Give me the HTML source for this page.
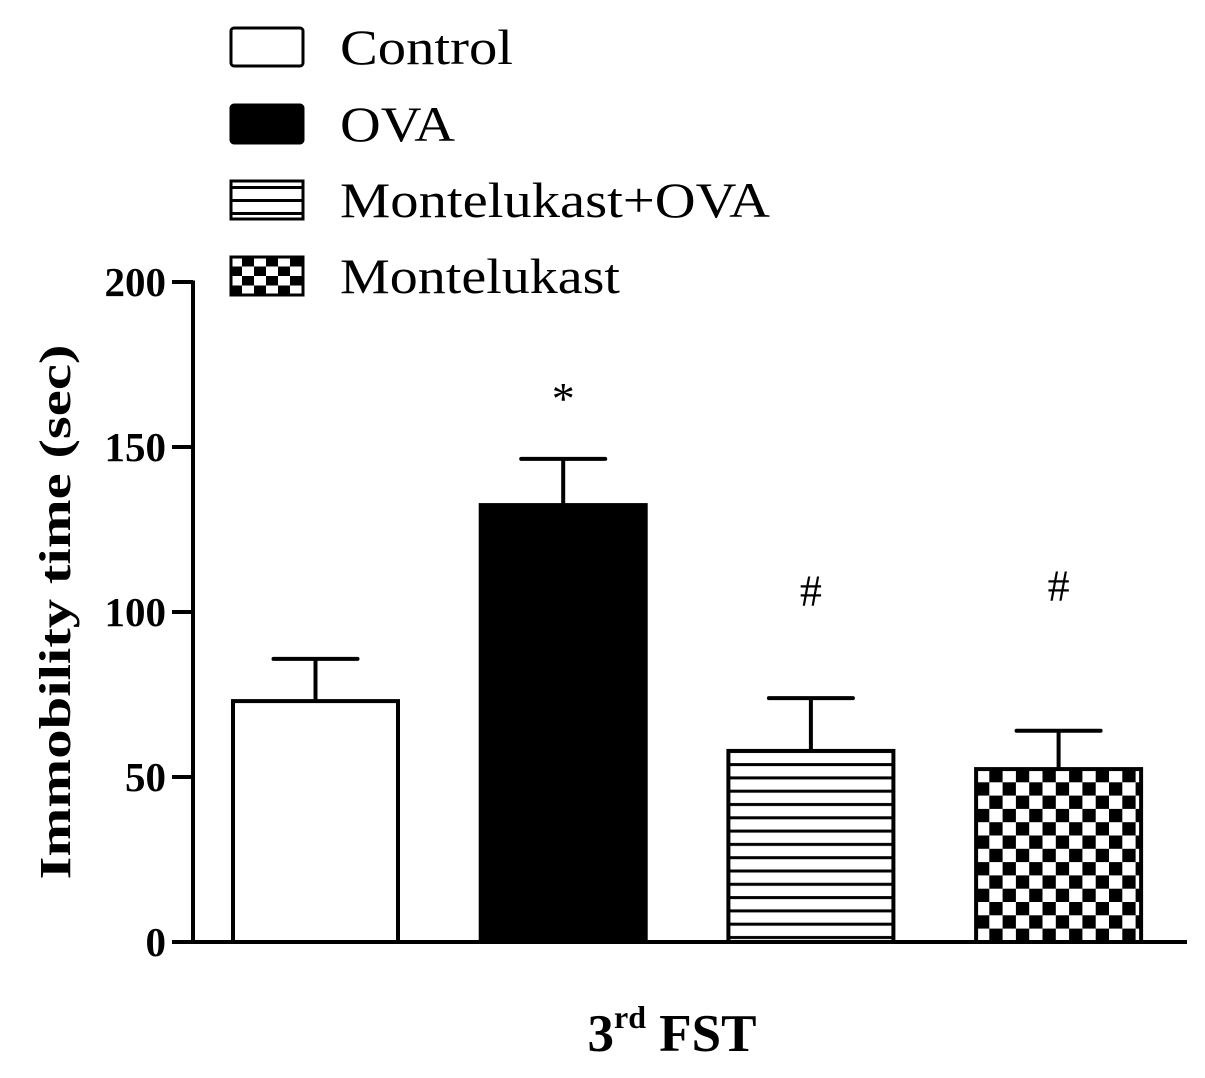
<!DOCTYPE html>
<html><head><meta charset="utf-8"><style>
html,body{margin:0;padding:0;background:#fff}
svg{display:block}
text{font-family:"Liberation Serif",serif;fill:#000}
</style></head><body>
<svg id="chart" width="1205" height="1078" viewBox="0 0 1205 1078">
<defs>
<pattern id="stripes" patternUnits="userSpaceOnUse" x="0" y="0" width="20" height="13.3"><rect width="20" height="13.3" fill="#fff"/><rect y="5" width="20" height="3" fill="#000"/></pattern>
<pattern id="checks" patternUnits="userSpaceOnUse" x="976" y="769" width="26.6" height="26.6"><rect width="26.6" height="26.6" fill="#fff"/><rect x="13.3" y="0" width="13.3" height="13.3" fill="#000"/><rect x="0" y="13.3" width="13.3" height="13.3" fill="#000"/></pattern>
<pattern id="checksL" patternUnits="userSpaceOnUse" x="230" y="257" width="24" height="19"><rect width="24" height="19" fill="#fff"/><rect x="12" width="12" height="9.5" fill="#000"/><rect y="9.5" width="12" height="9.5" fill="#000"/></pattern>
<pattern id="stripesL" patternUnits="userSpaceOnUse" x="230" y="181" width="20" height="13"><rect width="20" height="13" fill="#fff"/><rect y="5" width="20" height="3" fill="#000"/></pattern>
</defs>
<g id="legend">
<g><rect x="231" y="28" width="72" height="38" rx="3" fill="#fff" stroke="#000" stroke-width="3"/><text x="340" y="64" font-size="50" textLength="173" lengthAdjust="spacingAndGlyphs">Control</text></g>
<g><rect x="231" y="105" width="72" height="38" rx="3" fill="#000" stroke="#000" stroke-width="3"/><text x="340" y="141" font-size="50" textLength="115" lengthAdjust="spacingAndGlyphs">OVA</text></g>
<g><rect x="231" y="181" width="72" height="38" fill="url(#stripesL)" stroke="#000" stroke-width="3"/><text x="340" y="217" font-size="50" textLength="430" lengthAdjust="spacingAndGlyphs">Montelukast+OVA</text></g>
<g><rect x="231" y="257" width="72" height="38" fill="url(#checksL)" stroke="#000" stroke-width="3"/><text x="340" y="293" font-size="50" textLength="280" lengthAdjust="spacingAndGlyphs">Montelukast</text></g>
</g>
<g id="axes"></g>
<g id="bars"></g>
<text x="0" y="0" font-size="44" font-weight="bold" text-anchor="middle" textLength="535" lengthAdjust="spacingAndGlyphs" transform="translate(70,612) rotate(-90)">Immobility time (sec)</text>
<text x="672" y="1051" font-size="53" font-weight="bold" text-anchor="middle">3<tspan font-size="32" dy="-23">rd</tspan><tspan dy="23"> FST</tspan></text>
</svg>
<script>
const categories = ["Control", "OVA", "Montelukast+OVA", "Montelukast"];
const means = [73, 132.4, 57.9, 52.4];
const errors = [12.8, 14, 16, 11.6];
const marks = ["", "*", "#", "#"];
const markValues = [0, 160, 102, 103.5];
const yTicks = [0, 50, 100, 150, 200];
const fills = ["#fff", "#000", "url(#stripes)", "url(#checks)"];

const NS = "http://www.w3.org/2000/svg";
const y0 = 942, yTop = 282, yMax = 200;
function yScale(v){ return y0 - (v / yMax) * (y0 - yTop); }
function xScale(i){ return 233 + i * 247.7; }
const barW = 165;
function mk(tag, attrs, parent){ const e = document.createElementNS(NS, tag); for (const k in attrs) e.setAttribute(k, attrs[k]); parent.appendChild(e); return e; }

const axes = document.getElementById('axes');
const yl = mk('line', {x1:193, y1:yTop-1.5, x2:193, y2:y0+1.5, stroke:'#000', 'stroke-width':4}, axes);


const xl = mk('line', {x1:191, y1:y0, x2:1187, y2:y0, stroke:'#000', 'stroke-width':4}, axes);


yTicks.forEach(t => {
  const y = yScale(t);
  const tk = mk('line', {x1:172, y1:y, x2:193, y2:y, stroke:'#000', 'stroke-width':4}, axes);
  
  
  const lb = mk('text', {x:166, y:y+14, 'font-size':41, 'font-weight':'bold', 'text-anchor':'end'}, axes);
  lb.textContent = t;
  
  
});

const bars = document.getElementById('bars');
categories.forEach((c, i) => {
  const x = xScale(i), top = yScale(means[i]), et = yScale(means[i] + errors[i]);
  const cx = x + barW / 2;
  const eb = mk('line', {x1:cx, y1:top, x2:cx, y2:et, stroke:'#000', 'stroke-width':4}, bars);
  
  
  const cap = mk('line', {x1:cx-42, y1:et, x2:cx+42, y2:et, stroke:'#000', 'stroke-width':4, 'stroke-linecap':'round'}, bars);
  
  
  const r = mk('rect', {x:x, y:top, width:barW, height:y0-top, fill:fills[i], stroke:'#000', 'stroke-width':4}, bars);
  
  
  if (marks[i]) {
    const m = mk('text', {x:cx, y: yScale(markValues[i]), 'font-size': marks[i]==='*'?46:44, 'text-anchor':'middle'}, bars);
    m.textContent = marks[i];
    
    
  }
});
</script>
</body></html>
